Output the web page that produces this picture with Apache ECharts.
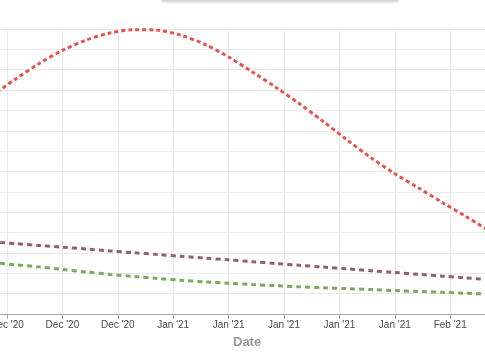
<!DOCTYPE html>
<html>
<head>
<meta charset="utf-8">
<script src="https://cdn.jsdelivr.net/npm/echarts@6/dist/echarts.min.js"></script>
<style>html,body{margin:0;padding:0;background:#fff}#c{width:485px;height:360px}</style>
</head>
<body>
<div id="c"></div>
<script>
const dates = ['2020-12-10','2020-12-13','2020-12-16','2020-12-19','2020-12-22','2020-12-25','2020-12-28','2020-12-31',
  '2021-01-03','2021-01-06','2021-01-09','2021-01-12','2021-01-15','2021-01-18','2021-01-21','2021-01-24',
  '2021-01-27','2021-01-30','2021-02-02','2021-02-05','2021-02-08','2021-02-11'];
const redValues = [10700,11520,12290,12950,13460,13800,13965,13940,13690,13245,12625,11890,11125,10315,9445,8545,7675,6895,6190,5480,4785,4075];
const mauveValues = [3545,3460,3370,3280,3195,3100,3010,2925,2835,2745,2660,2570,2480,2390,2305,2215,2125,2040,1950,1860,1775,1685];
const greenValues = [2535,2420,2315,2190,2065,1945,1840,1745,1660,1575,1515,1445,1390,1335,1290,1245,1200,1150,1105,1065,1020,975];
const baseDate = '2020-12-12';
const months = ['Jan','Feb','Mar','Apr','May','Jun','Jul','Aug','Sep','Oct','Nov','Dec'];

const DAY = 86400000;
const base = Date.parse(baseDate + 'T00:00:00Z');
const dayOf = s => (Date.parse(s + 'T00:00:00Z') - base) / DAY;
const pairs = vals => dates.map((d, i) => [dayOf(d), vals[i]]);
const fmt = v => {
  const dt = new Date(base + v * DAY);
  return months[dt.getUTCMonth()] + " '" + String(dt.getUTCFullYear()).slice(2);
};

const chart = echarts.init(document.getElementById('c'));
const mk = (name, vals, color, dash) => ({
  name, type: 'line', data: pairs(vals), showSymbol: false, smooth: 0.3,
  lineStyle: { color, width: 3, type: dash }, itemStyle: { color }
});
chart.setOption({
  animation: false,
  grid: { left: -48.4, right: -20.6, top: 29, bottom: 46, containLabel: false, outerBoundsMode: 'none' },
  xAxis: {
    type: 'value', min: -7, max: 63, interval: 7,
    axisLine: { lineStyle: { color: '#aaaaaa' } },
    axisTick: { show: true, length: 5, lineStyle: { color: '#aaaaaa' } },
    axisLabel: { formatter: fmt, color: '#4a4a4a', fontSize: 10, fontFamily: 'Liberation Sans, Arial', margin: 6 },
    splitLine: { show: true, lineStyle: { color: '#e9e9e9' } }
  },
  yAxis: {
    type: 'value', min: 0, max: 14000, interval: 1000,
    axisLine: { show: false }, axisTick: { show: false }, axisLabel: { show: false },
    splitLine: { show: true, lineStyle: { color: '#e9e9e9' } }
  },
  graphic: [
    { type: 'rect', shape: { x: 162, y: -20, width: 236, height: 20.5 },
      style: { fill: '#fff', stroke: '#d8d8d8', lineWidth: 1, shadowBlur: 3, shadowColor: 'rgba(0,0,0,0.15)', shadowOffsetY: 1 } },
    { type: 'text', left: 233, top: 336,
      style: { text: 'Date', fill: '#999', font: 'bold 13px "Liberation Sans", Arial' } }
  ],
  series: [
    mk('Red', redValues, '#e25552', [4, 3]),
    mk('Mauve', mauveValues, '#93606f', [5, 4]),
    mk('Green', greenValues, '#7fa85e', [5, 4])
  ]
});
</script>
</body>
</html>
